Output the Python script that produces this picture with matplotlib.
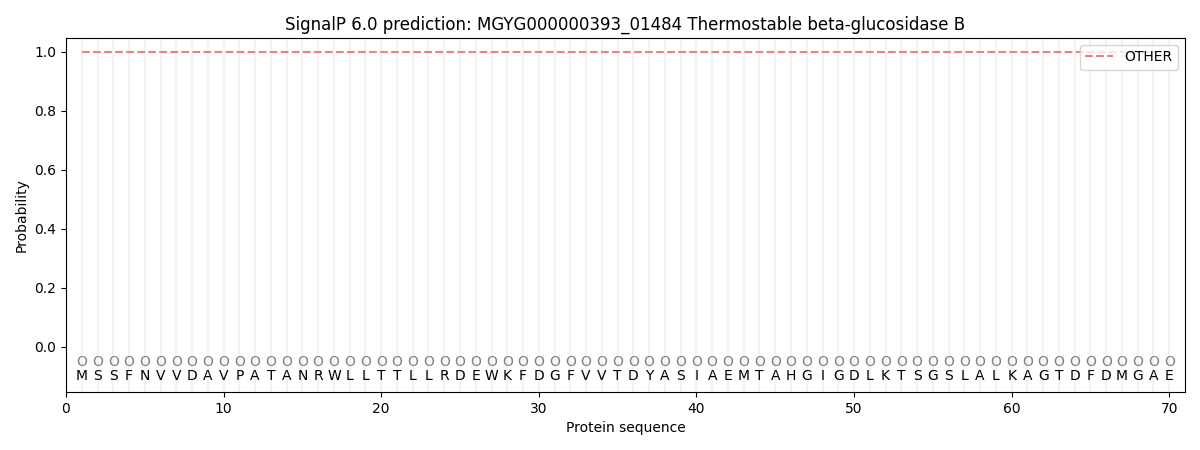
import numpy as np
import matplotlib
matplotlib.use("Agg")
import matplotlib.pyplot as plt

# Sequence and per-residue predictions
sequence = list("MSSFNVVDAVPATANRWLLTTLLRDEWKFDGFVVTDYASIAEMTAHGIGDLKTSGSLALKAGTDFDMGAE")
positions = np.arange(1, len(sequence) + 1)
pred_labels = ["O"] * len(sequence)
prob_other = [1.0] * len(sequence)

fig, ax = plt.subplots(figsize=(12, 4.5))
fig.subplots_adjust(left=0.055, right=0.9875, top=0.916, bottom=0.129)

# light vertical guides at each residue
for p in positions:
    ax.axvline(p, color="lightgray", alpha=0.25, linewidth=1.5, zorder=0)

ax.plot(positions, prob_other, color="#f08080", linestyle="--", linewidth=1.5, label="OTHER")

for p, aa, lab in zip(positions, sequence, pred_labels):
    ax.text(p, -0.05, lab, ha="center", va="center", fontsize=10, color="gray")
    ax.text(p, -0.1, aa, ha="center", va="center", fontsize=10, color="black")

ax.set_xlim(0, 71)
ax.set_ylim(-0.153, 1.047)
ax.set_yticks([0.0, 0.2, 0.4, 0.6, 0.8, 1.0])
ax.set_xlabel("Protein sequence")
ax.set_ylabel("Probability")
ax.set_title("SignalP 6.0 prediction: MGYG000000393_01484 Thermostable beta-glucosidase B")
ax.legend(loc="upper right")

plt.savefig("out.png", dpi=100)
